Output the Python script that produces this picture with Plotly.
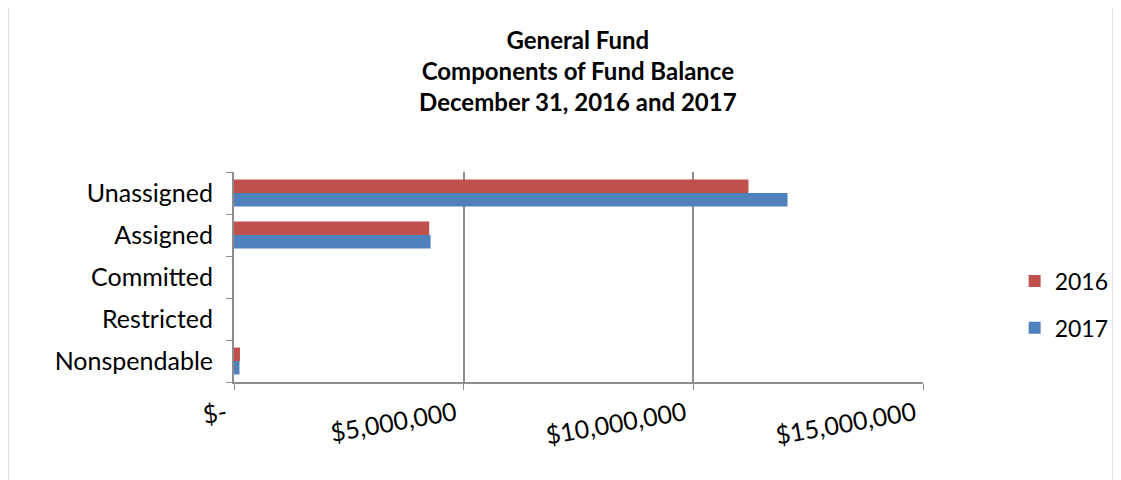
import plotly.graph_objects as go

categories = ["Nonspendable", "Restricted", "Committed", "Assigned", "Unassigned"]
values_2016 = [130000, 0, 0, 4250000, 11200000]
values_2017 = [120000, 0, 0, 4280000, 12050000]
tick_vals = [0, 5000000, 10000000, 15000000]
tick_text = ["$-", "$5,000,000", "$10,000,000", "$15,000,000"]

FONT = "Lato"
RED = "#C0504D"
BLUE = "#4F81BD"

fig = go.Figure()
fig.add_trace(go.Bar(y=categories, x=values_2017, name="2017", orientation="h", legendgroup="b",
                     legendrank=2, marker=dict(color=BLUE, line=dict(width=0))))
fig.add_trace(go.Bar(y=categories, x=values_2016, name="2016", orientation="h", legendgroup="a",
                     legendrank=1, marker=dict(color=RED, line=dict(width=0))))

fig.update_layout(
    width=1113, height=472,
    paper_bgcolor="white", plot_bgcolor="white",
    barmode="group", bargap=0.36, bargroupgap=0,
    margin=dict(l=226, r=198, t=164, b=98, autoexpand=False),
    font=dict(family=FONT, size=25, color="black"),
    title=dict(text="<b>General Fund<br>Components of Fund Balance<br>December 31, 2016 and 2017</b>",
               x=0.512, xanchor="center", y=0.913, yanchor="middle",
               font=dict(family=FONT, size=24, color="black")),
    legend=dict(traceorder="grouped", x=1.133, y=0.369, xanchor="left", yanchor="middle",
                font=dict(family=FONT, size=23), tracegroupgap=14, bgcolor="rgba(0,0,0,0)"),
    showlegend=True,
)
fig.update_xaxes(range=[0, 15000000], tickvals=tick_vals, ticktext=tick_text, tickangle=-10,
                 showgrid=True, gridcolor="#8C8C8C", gridwidth=2, zeroline=False,
                 showline=True, linecolor="#8C8C8C", linewidth=2, ticks="outside", ticklen=6,
                 tickcolor="#8C8C8C", ticklabelstandoff=0, ticklabelshift=-8,
                 tickfont=dict(family=FONT, size=25), automargin=False)
fig.update_yaxes(showline=True, linecolor="#8C8C8C", linewidth=2, ticks="outside", ticklen=6,
                 tickcolor="#8C8C8C", showgrid=False, tickson="boundaries",
                 tickfont=dict(family=FONT, size=25), ticklabelstandoff=14, automargin=False)

fig.add_shape(type="line", xref="paper", yref="paper", x0=-0.328, x1=-0.328, y0=-0.5, y1=1.85,
              line=dict(color="#BFBFBF", width=1))
fig.add_shape(type="line", xref="paper", yref="paper", x0=1.2758, x1=1.2758, y0=-0.5, y1=1.85,
              line=dict(color="#BFBFBF", width=1))

fig.write_html("out.html")
